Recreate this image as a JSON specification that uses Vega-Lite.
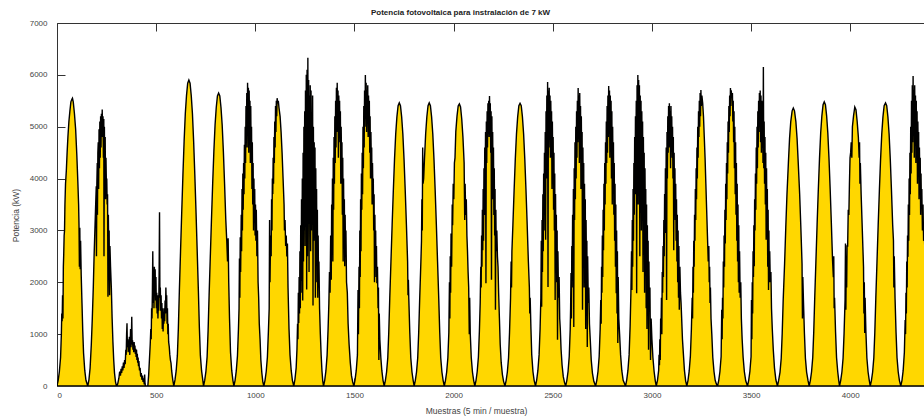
{
"$schema": "https://vega.github.io/schema/vega-lite/v6.json",
"width": 867, "height": 363,
"autosize": {"type": "none"},
"padding": {"left": 57, "top": 23, "right": 0, "bottom": 30},
"background": "white",
"config": {"view": {"stroke": null}, "font": "Liberation Sans"},
"title": {"text": "Potencia fotovoltaica para instralación de 7 kW", "fontSize": 8, "fontWeight": "bold", "font": "Liberation Sans", "color": "#222", "dx": -30, "offset": 2},
"data": {"values": [
{"m":0,"p":0},{"m":6,"p":110},{"m":12,"p":280},{"m":18,"p":550},{"m":22,"p":1000},{"m":24,"p":1400},{"m":26,"p":1250},{"m":28,"p":1750},{"m":30,"p":1300},{"m":32,"p":2300},{"m":34,"p":2550},{"m":36,"p":2900},{"m":38,"p":3000},{"m":40,"p":3500},{"m":43,"p":3900},{"m":47,"p":4150},{"m":51,"p":4500},{"m":55,"p":4800},{"m":60,"p":5100},{"m":65,"p":5300},{"m":70,"p":5480},{"m":75,"p":5530},{"m":78,"p":5550},{"m":82,"p":5480},{"m":88,"p":5250},{"m":94,"p":4950},{"m":100,"p":4450},{"m":105,"p":3950},{"m":109,"p":3500},{"m":111,"p":3100},{"m":113,"p":2300},{"m":115,"p":3050},{"m":117,"p":2250},{"m":119,"p":2800},{"m":122,"p":2150},{"m":126,"p":1600},{"m":130,"p":1050},{"m":134,"p":630},{"m":140,"p":300},{"m":146,"p":110},
{"m":155,"p":0},{"m":161,"p":120},{"m":167,"p":350},{"m":173,"p":800},{"m":178,"p":1300},{"m":183,"p":1900},{"m":187,"p":2500},{"m":191,"p":3000},{"m":195,"p":3500},{"m":198,"p":3850},{"m":199,"p":2500},{"m":201,"p":3900},{"m":203,"p":4300},{"m":204,"p":3300},{"m":206,"p":4500},{"m":208,"p":4700},{"m":210,"p":3800},{"m":212,"p":4950},{"m":214,"p":4200},{"m":216,"p":5100},{"m":218,"p":4400},{"m":220,"p":5200},{"m":222,"p":4600},{"m":224,"p":5250},{"m":226,"p":4800},{"m":228,"p":5330},{"m":230,"p":4900},{"m":232,"p":5200},{"m":234,"p":4400},{"m":236,"p":5150},{"m":237,"p":2500},{"m":239,"p":5000},{"m":241,"p":3800},{"m":243,"p":4800},{"m":245,"p":3600},{"m":247,"p":4400},{"m":249,"p":3900},{"m":251,"p":4000},{"m":253,"p":3500},{"m":255,"p":3700},{"m":257,"p":1720},{"m":259,"p":3300},{"m":261,"p":2600},{"m":263,"p":3000},{"m":265,"p":1750},{"m":267,"p":2700},{"m":270,"p":2300},{"m":274,"p":1900},{"m":278,"p":1300},{"m":282,"p":850},{"m":286,"p":500},{"m":290,"p":250},{"m":295,"p":80},
{"m":300,"p":0},{"m":306,"p":40},{"m":312,"p":150},{"m":316,"p":280},{"m":320,"p":200},{"m":323,"p":330},{"m":326,"p":250},{"m":329,"p":380},{"m":332,"p":300},{"m":335,"p":450},{"m":338,"p":350},{"m":341,"p":500},{"m":344,"p":420},{"m":347,"p":700},{"m":349,"p":600},{"m":351,"p":1000},{"m":353,"p":1210},{"m":355,"p":750},{"m":357,"p":900},{"m":359,"p":650},{"m":361,"p":820},{"m":363,"p":700},{"m":365,"p":950},{"m":367,"p":600},{"m":369,"p":800},{"m":371,"p":1100},{"m":373,"p":750},{"m":375,"p":900},{"m":377,"p":1336},{"m":379,"p":800},{"m":381,"p":880},{"m":383,"p":700},{"m":385,"p":840},{"m":387,"p":650},{"m":389,"p":850},{"m":391,"p":700},{"m":393,"p":780},{"m":395,"p":620},{"m":397,"p":720},{"m":399,"p":560},{"m":401,"p":700},{"m":403,"p":500},{"m":405,"p":620},{"m":407,"p":450},{"m":409,"p":550},{"m":411,"p":380},{"m":413,"p":480},{"m":416,"p":300},{"m":419,"p":350},{"m":422,"p":180},{"m":425,"p":250},{"m":428,"p":120},{"m":431,"p":200},{"m":434,"p":80},{"m":437,"p":150},{"m":440,"p":30},{"m":442,"p":220},{"m":444,"p":50},{"m":446,"p":0},
{"m":458,"p":0},{"m":462,"p":200},{"m":466,"p":500},{"m":470,"p":800},{"m":473,"p":1100},{"m":475,"p":900},{"m":477,"p":1500},{"m":479,"p":1300},{"m":481,"p":1800},{"m":483,"p":2600},{"m":485,"p":1600},{"m":487,"p":2100},{"m":489,"p":1500},{"m":491,"p":2300},{"m":493,"p":1900},{"m":495,"p":2250},{"m":497,"p":1650},{"m":499,"p":2100},{"m":501,"p":1500},{"m":503,"p":1800},{"m":505,"p":1400},{"m":507,"p":1750},{"m":509,"p":1300},{"m":511,"p":1600},{"m":513,"p":1450},{"m":515,"p":2200},{"m":517,"p":3350},{"m":519,"p":1700},{"m":521,"p":1900},{"m":523,"p":1450},{"m":525,"p":1750},{"m":527,"p":1300},{"m":529,"p":1600},{"m":531,"p":1100},{"m":533,"p":1500},{"m":535,"p":1050},{"m":537,"p":1400},{"m":539,"p":1200},{"m":541,"p":1500},{"m":543,"p":1250},{"m":545,"p":1650},{"m":547,"p":1400},{"m":549,"p":1900},{"m":551,"p":1600},{"m":553,"p":1750},{"m":555,"p":1200},{"m":557,"p":1500},{"m":559,"p":1000},{"m":561,"p":1200},{"m":563,"p":850},{"m":566,"p":760},{"m":569,"p":600},{"m":572,"p":500},{"m":575,"p":440},{"m":578,"p":300},{"m":581,"p":200},{"m":584,"p":115},
{"m":589,"p":0},{"m":595,"p":118},{"m":601,"p":295},{"m":607,"p":590},{"m":612,"p":1120},{"m":617,"p":1830},{"m":623,"p":2600},{"m":629,"p":3360},{"m":635,"p":4070},{"m":641,"p":4720},{"m":647,"p":5250},{"m":653,"p":5600},{"m":659,"p":5840},{"m":665,"p":5900},{"m":671,"p":5840},{"m":677,"p":5600},{"m":683,"p":5250},{"m":689,"p":4720},{"m":695,"p":4070},{"m":701,"p":3360},{"m":707,"p":2600},{"m":713,"p":1830},{"m":718,"p":1120},{"m":723,"p":590},{"m":729,"p":295},{"m":735,"p":118},
{"m":739,"p":0},{"m":745,"p":113},{"m":751,"p":283},{"m":757,"p":565},{"m":762,"p":1074},{"m":767,"p":1752},{"m":773,"p":2486},{"m":779,"p":3221},{"m":785,"p":3899},{"m":791,"p":4520},{"m":797,"p":5029},{"m":803,"p":5368},{"m":809,"p":5594},{"m":815,"p":5650},{"m":821,"p":5594},{"m":827,"p":5368},{"m":833,"p":5029},{"m":839,"p":4520},{"m":845,"p":3899},{"m":851,"p":3221},{"m":856,"p":2800},{"m":860,"p":2400},{"m":863,"p":2850},{"m":866,"p":2000},{"m":870,"p":1300},{"m":875,"p":650},{"m":881,"p":300},{"m":887,"p":110},
{"m":892,"p":0},{"m":898,"p":110},{"m":904,"p":290},{"m":910,"p":580},{"m":915,"p":1100},{"m":918,"p":1500},{"m":920,"p":2460},{"m":922,"p":1700},{"m":924,"p":2870},{"m":926,"p":2200},{"m":929,"p":3300},{"m":931,"p":2600},{"m":933,"p":3800},{"m":935,"p":3000},{"m":937,"p":4100},{"m":939,"p":3400},{"m":941,"p":4300},{"m":943,"p":3700},{"m":945,"p":4650},{"m":947,"p":4000},{"m":949,"p":5000},{"m":951,"p":4300},{"m":953,"p":5400},{"m":955,"p":4700},{"m":957,"p":5650},{"m":959,"p":4600},{"m":961,"p":5850},{"m":963,"p":5100},{"m":965,"p":5750},{"m":967,"p":4500},{"m":969,"p":5700},{"m":971,"p":5000},{"m":973,"p":5500},{"m":975,"p":4300},{"m":977,"p":5400},{"m":979,"p":4500},{"m":981,"p":5000},{"m":983,"p":3800},{"m":985,"p":4700},{"m":987,"p":3500},{"m":989,"p":4300},{"m":991,"p":3000},{"m":993,"p":4000},{"m":995,"p":3300},{"m":997,"p":3800},{"m":999,"p":2900},{"m":1001,"p":3500},{"m":1003,"p":2800},{"m":1005,"p":3400},{"m":1008,"p":2500},{"m":1011,"p":3000},{"m":1014,"p":2000},{"m":1017,"p":1700},{"m":1020,"p":1200},{"m":1024,"p":900},{"m":1028,"p":500},{"m":1033,"p":250},{"m":1038,"p":80},
{"m":1043,"p":0},{"m":1049,"p":110},{"m":1055,"p":280},{"m":1061,"p":560},{"m":1066,"p":1050},{"m":1070,"p":1500},{"m":1072,"p":3200},{"m":1074,"p":2000},{"m":1076,"p":2560},{"m":1078,"p":2900},{"m":1080,"p":2500},{"m":1082,"p":3600},{"m":1084,"p":3000},{"m":1086,"p":4000},{"m":1088,"p":3700},{"m":1090,"p":4400},{"m":1092,"p":3900},{"m":1094,"p":4800},{"m":1096,"p":4300},{"m":1098,"p":5100},{"m":1100,"p":4600},{"m":1102,"p":5400},{"m":1104,"p":4900},{"m":1106,"p":5500},{"m":1108,"p":5200},{"m":1110,"p":5550},{"m":1113,"p":5450},{"m":1116,"p":5500},{"m":1120,"p":5350},{"m":1125,"p":5200},{"m":1130,"p":4900},{"m":1135,"p":4500},{"m":1140,"p":4000},{"m":1145,"p":3500},{"m":1147,"p":3000},{"m":1150,"p":3200},{"m":1153,"p":2700},{"m":1156,"p":2900},{"m":1159,"p":2500},{"m":1162,"p":2750},{"m":1165,"p":1900},{"m":1170,"p":1100},{"m":1175,"p":600},{"m":1181,"p":300},{"m":1187,"p":110},
{"m":1194,"p":0},{"m":1200,"p":130},{"m":1206,"p":350},{"m":1210,"p":700},{"m":1213,"p":1200},{"m":1215,"p":900},{"m":1217,"p":1800},{"m":1219,"p":1215},{"m":1221,"p":2100},{"m":1223,"p":1400},{"m":1225,"p":2600},{"m":1227,"p":1500},{"m":1229,"p":3100},{"m":1231,"p":1800},{"m":1233,"p":3600},{"m":1235,"p":2030},{"m":1237,"p":4000},{"m":1239,"p":1650},{"m":1241,"p":4500},{"m":1243,"p":2400},{"m":1245,"p":5000},{"m":1247,"p":3000},{"m":1249,"p":5300},{"m":1251,"p":2700},{"m":1253,"p":5700},{"m":1255,"p":3200},{"m":1257,"p":6000},{"m":1259,"p":1860},{"m":1261,"p":6100},{"m":1263,"p":2500},{"m":1265,"p":6330},{"m":1267,"p":3400},{"m":1269,"p":5900},{"m":1271,"p":2200},{"m":1273,"p":5600},{"m":1275,"p":3900},{"m":1277,"p":5800},{"m":1279,"p":2600},{"m":1281,"p":5700},{"m":1283,"p":3000},{"m":1285,"p":5200},{"m":1287,"p":4400},{"m":1289,"p":5600},{"m":1291,"p":1550},{"m":1293,"p":5000},{"m":1295,"p":2800},{"m":1297,"p":4700},{"m":1299,"p":3300},{"m":1301,"p":4600},{"m":1303,"p":1700},{"m":1305,"p":4200},{"m":1307,"p":2400},{"m":1309,"p":3800},{"m":1311,"p":2000},{"m":1313,"p":3400},{"m":1315,"p":1700},{"m":1317,"p":2900},{"m":1319,"p":1900},{"m":1321,"p":2400},{"m":1324,"p":1500},{"m":1328,"p":1000},{"m":1332,"p":600},{"m":1336,"p":300},{"m":1340,"p":100},
{"m":1344,"p":0},{"m":1350,"p":110},{"m":1356,"p":290},{"m":1362,"p":590},{"m":1367,"p":1100},{"m":1371,"p":1600},{"m":1374,"p":2200},{"m":1377,"p":1800},{"m":1380,"p":2900},{"m":1383,"p":2050},{"m":1385,"p":3500},{"m":1387,"p":2700},{"m":1389,"p":4000},{"m":1391,"p":2400},{"m":1393,"p":4400},{"m":1395,"p":3400},{"m":1397,"p":4800},{"m":1399,"p":3900},{"m":1401,"p":5200},{"m":1403,"p":4300},{"m":1405,"p":5500},{"m":1407,"p":4600},{"m":1409,"p":5750},{"m":1411,"p":4900},{"m":1413,"p":5850},{"m":1415,"p":5000},{"m":1417,"p":5700},{"m":1419,"p":4400},{"m":1421,"p":5600},{"m":1423,"p":5100},{"m":1425,"p":5500},{"m":1427,"p":4700},{"m":1429,"p":5300},{"m":1431,"p":3900},{"m":1433,"p":5000},{"m":1435,"p":4300},{"m":1437,"p":4700},{"m":1439,"p":3300},{"m":1441,"p":4400},{"m":1443,"p":2400},{"m":1445,"p":4000},{"m":1447,"p":3000},{"m":1449,"p":3600},{"m":1451,"p":2310},{"m":1453,"p":3300},{"m":1455,"p":2600},{"m":1457,"p":3000},{"m":1460,"p":2000},{"m":1464,"p":1800},{"m":1468,"p":1200},{"m":1473,"p":800},{"m":1479,"p":450},{"m":1485,"p":200},{"m":1491,"p":80},
{"m":1497,"p":0},{"m":1503,"p":120},{"m":1509,"p":300},{"m":1515,"p":600},{"m":1518,"p":1850},{"m":1520,"p":1000},{"m":1523,"p":2300},{"m":1525,"p":1500},{"m":1527,"p":3000},{"m":1529,"p":2100},{"m":1531,"p":3600},{"m":1533,"p":2600},{"m":1535,"p":4100},{"m":1537,"p":3400},{"m":1539,"p":4500},{"m":1541,"p":3700},{"m":1543,"p":5000},{"m":1545,"p":4200},{"m":1547,"p":5400},{"m":1549,"p":4600},{"m":1551,"p":5700},{"m":1553,"p":5000},{"m":1555,"p":5995},{"m":1557,"p":5200},{"m":1559,"p":5850},{"m":1561,"p":4900},{"m":1563,"p":5700},{"m":1565,"p":5300},{"m":1567,"p":5800},{"m":1569,"p":4800},{"m":1571,"p":5600},{"m":1573,"p":5100},{"m":1575,"p":5500},{"m":1577,"p":4500},{"m":1579,"p":5200},{"m":1581,"p":4000},{"m":1583,"p":4900},{"m":1585,"p":4300},{"m":1587,"p":4600},{"m":1589,"p":3500},{"m":1591,"p":4300},{"m":1593,"p":3700},{"m":1595,"p":4000},{"m":1597,"p":3000},{"m":1599,"p":3700},{"m":1601,"p":2000},{"m":1603,"p":3300},{"m":1605,"p":2500},{"m":1607,"p":3000},{"m":1609,"p":2100},{"m":1611,"p":2700},{"m":1613,"p":1980},{"m":1616,"p":2300},{"m":1619,"p":1500},{"m":1621,"p":1900},{"m":1623,"p":500},{"m":1625,"p":1400},{"m":1628,"p":900},{"m":1633,"p":550},{"m":1638,"p":300},{"m":1644,"p":110},
{"m":1650,"p":0},{"m":1656,"p":110},{"m":1662,"p":270},{"m":1668,"p":545},{"m":1673,"p":1035},{"m":1678,"p":1690},{"m":1684,"p":2400},{"m":1690,"p":3110},{"m":1696,"p":3770},{"m":1702,"p":4370},{"m":1708,"p":4860},{"m":1714,"p":5190},{"m":1720,"p":5405},{"m":1726,"p":5460},{"m":1732,"p":5405},{"m":1738,"p":5190},{"m":1744,"p":4860},{"m":1750,"p":4370},{"m":1756,"p":3770},{"m":1762,"p":3110},{"m":1768,"p":2400},{"m":1770,"p":1750},{"m":1772,"p":2050},{"m":1774,"p":1690},{"m":1779,"p":1035},{"m":1784,"p":545},{"m":1790,"p":270},{"m":1796,"p":110},
{"m":1801,"p":0},{"m":1807,"p":110},{"m":1813,"p":270},{"m":1819,"p":545},{"m":1824,"p":1035},{"m":1829,"p":1690},{"m":1835,"p":2400},{"m":1838,"p":2800},{"m":1840,"p":3600},{"m":1842,"p":3000},{"m":1844,"p":4600},{"m":1846,"p":3900},{"m":1849,"p":4000},{"m":1853,"p":4370},{"m":1859,"p":4860},{"m":1865,"p":5190},{"m":1871,"p":5405},{"m":1877,"p":5460},{"m":1883,"p":5405},{"m":1889,"p":5190},{"m":1895,"p":4860},{"m":1901,"p":4370},{"m":1907,"p":3770},{"m":1913,"p":3110},{"m":1919,"p":2400},{"m":1925,"p":1690},{"m":1930,"p":1035},{"m":1935,"p":545},{"m":1941,"p":270},{"m":1947,"p":110},
{"m":1953,"p":0},{"m":1959,"p":110},{"m":1965,"p":270},{"m":1971,"p":545},{"m":1976,"p":1035},{"m":1979,"p":2000},{"m":1981,"p":1300},{"m":1983,"p":2500},{"m":1985,"p":1800},{"m":1987,"p":2940},{"m":1990,"p":2300},{"m":1993,"p":3500},{"m":1995,"p":3100},{"m":1998,"p":3900},{"m":2001,"p":3600},{"m":2004,"p":4300},{"m":2007,"p":4400},{"m":2011,"p":4900},{"m":2017,"p":5200},{"m":2023,"p":5400},{"m":2029,"p":5440},{"m":2035,"p":5380},{"m":2041,"p":5150},{"m":2047,"p":4800},{"m":2053,"p":4300},{"m":2056,"p":3200},{"m":2058,"p":3900},{"m":2061,"p":3300},{"m":2064,"p":3600},{"m":2067,"p":2900},{"m":2070,"p":2600},{"m":2073,"p":2200},{"m":2076,"p":1900},{"m":2079,"p":1000},{"m":2081,"p":1700},{"m":2084,"p":1000},{"m":2089,"p":550},{"m":2095,"p":270},{"m":2101,"p":110},
{"m":2107,"p":0},{"m":2113,"p":110},{"m":2119,"p":280},{"m":2125,"p":560},{"m":2130,"p":1060},{"m":2134,"p":1600},{"m":2137,"p":2300},{"m":2139,"p":1900},{"m":2141,"p":2900},{"m":2143,"p":2300},{"m":2145,"p":3400},{"m":2147,"p":2620},{"m":2149,"p":3800},{"m":2151,"p":2800},{"m":2153,"p":4200},{"m":2155,"p":3300},{"m":2157,"p":4600},{"m":2159,"p":3800},{"m":2161,"p":4900},{"m":2163,"p":1980},{"m":2165,"p":5100},{"m":2167,"p":4300},{"m":2169,"p":5300},{"m":2171,"p":4600},{"m":2173,"p":5450},{"m":2175,"p":4900},{"m":2177,"p":5500},{"m":2179,"p":4800},{"m":2181,"p":5590},{"m":2183,"p":5100},{"m":2185,"p":5450},{"m":2187,"p":4500},{"m":2189,"p":5300},{"m":2191,"p":2050},{"m":2193,"p":5200},{"m":2195,"p":4100},{"m":2197,"p":4900},{"m":2199,"p":3600},{"m":2201,"p":4600},{"m":2203,"p":3300},{"m":2205,"p":4200},{"m":2207,"p":2900},{"m":2209,"p":3800},{"m":2211,"p":1470},{"m":2213,"p":3400},{"m":2215,"p":2600},{"m":2218,"p":3000},{"m":2221,"p":2500},{"m":2224,"p":2300},{"m":2227,"p":1800},{"m":2231,"p":1300},{"m":2235,"p":800},{"m":2240,"p":450},{"m":2246,"p":220},{"m":2252,"p":90},
{"m":2259,"p":0},{"m":2265,"p":110},{"m":2271,"p":270},{"m":2277,"p":545},{"m":2282,"p":1035},{"m":2287,"p":1690},{"m":2290,"p":2400},{"m":2292,"p":1900},{"m":2294,"p":2600},{"m":2299,"p":3110},{"m":2305,"p":3770},{"m":2311,"p":4370},{"m":2317,"p":4860},{"m":2323,"p":5190},{"m":2329,"p":5405},{"m":2335,"p":5450},{"m":2341,"p":5405},{"m":2347,"p":5190},{"m":2353,"p":4860},{"m":2359,"p":4370},{"m":2365,"p":3770},{"m":2371,"p":3110},{"m":2377,"p":2400},{"m":2382,"p":1900},{"m":2384,"p":1400},{"m":2386,"p":1700},{"m":2390,"p":1100},{"m":2394,"p":600},{"m":2400,"p":280},{"m":2406,"p":110},
{"m":2413,"p":0},{"m":2419,"p":120},{"m":2425,"p":300},{"m":2431,"p":600},{"m":2436,"p":1100},{"m":2440,"p":1700},{"m":2442,"p":2800},{"m":2444,"p":1530},{"m":2446,"p":3200},{"m":2448,"p":2200},{"m":2450,"p":3700},{"m":2452,"p":2600},{"m":2454,"p":4100},{"m":2456,"p":3000},{"m":2458,"p":4500},{"m":2460,"p":3600},{"m":2462,"p":4900},{"m":2464,"p":2820},{"m":2466,"p":5300},{"m":2468,"p":4000},{"m":2470,"p":5600},{"m":2472,"p":4300},{"m":2474,"p":5860},{"m":2476,"p":1910},{"m":2478,"p":5700},{"m":2480,"p":4600},{"m":2482,"p":5750},{"m":2484,"p":5000},{"m":2486,"p":5600},{"m":2488,"p":4400},{"m":2490,"p":5500},{"m":2492,"p":4800},{"m":2494,"p":5300},{"m":2496,"p":3800},{"m":2498,"p":5100},{"m":2500,"p":4200},{"m":2502,"p":4800},{"m":2504,"p":3400},{"m":2506,"p":4500},{"m":2508,"p":3000},{"m":2510,"p":4100},{"m":2512,"p":1660},{"m":2514,"p":3700},{"m":2516,"p":2600},{"m":2518,"p":3300},{"m":2520,"p":2000},{"m":2522,"p":3000},{"m":2524,"p":890},{"m":2526,"p":2600},{"m":2529,"p":1700},{"m":2532,"p":2100},{"m":2535,"p":1300},{"m":2538,"p":1100},{"m":2542,"p":700},{"m":2547,"p":400},{"m":2553,"p":180},{"m":2559,"p":70},
{"m":2565,"p":0},{"m":2571,"p":110},{"m":2577,"p":280},{"m":2583,"p":570},{"m":2588,"p":1100},{"m":2590,"p":1500},{"m":2592,"p":2180},{"m":2594,"p":1300},{"m":2596,"p":2700},{"m":2598,"p":1900},{"m":2600,"p":3300},{"m":2602,"p":2400},{"m":2604,"p":3800},{"m":2606,"p":1140},{"m":2608,"p":4200},{"m":2610,"p":3200},{"m":2612,"p":4700},{"m":2614,"p":3600},{"m":2616,"p":5000},{"m":2618,"p":4000},{"m":2620,"p":5300},{"m":2622,"p":4400},{"m":2624,"p":5500},{"m":2626,"p":4700},{"m":2628,"p":5745},{"m":2630,"p":4900},{"m":2632,"p":5600},{"m":2634,"p":4300},{"m":2636,"p":5650},{"m":2638,"p":4800},{"m":2640,"p":5400},{"m":2642,"p":3800},{"m":2644,"p":5200},{"m":2646,"p":4200},{"m":2648,"p":4900},{"m":2650,"p":1470},{"m":2652,"p":4600},{"m":2654,"p":3500},{"m":2656,"p":4300},{"m":2658,"p":1900},{"m":2660,"p":3900},{"m":2662,"p":2800},{"m":2664,"p":3600},{"m":2666,"p":1100},{"m":2668,"p":3200},{"m":2670,"p":2200},{"m":2672,"p":2800},{"m":2674,"p":750},{"m":2676,"p":2500},{"m":2679,"p":1600},{"m":2682,"p":1900},{"m":2685,"p":1200},{"m":2689,"p":900},{"m":2694,"p":500},{"m":2700,"p":250},{"m":2707,"p":90},
{"m":2716,"p":0},{"m":2722,"p":110},{"m":2728,"p":280},{"m":2734,"p":570},{"m":2739,"p":1100},{"m":2742,"p":1660},{"m":2744,"p":1200},{"m":2746,"p":2300},{"m":2748,"p":1800},{"m":2750,"p":2900},{"m":2752,"p":2100},{"m":2754,"p":3400},{"m":2756,"p":2620},{"m":2758,"p":3900},{"m":2760,"p":3000},{"m":2762,"p":4300},{"m":2764,"p":3500},{"m":2766,"p":4700},{"m":2768,"p":3900},{"m":2770,"p":5100},{"m":2772,"p":4300},{"m":2774,"p":5400},{"m":2776,"p":4500},{"m":2778,"p":5600},{"m":2780,"p":4800},{"m":2782,"p":5785},{"m":2784,"p":5000},{"m":2786,"p":5700},{"m":2788,"p":4400},{"m":2790,"p":5600},{"m":2792,"p":4700},{"m":2794,"p":5500},{"m":2796,"p":4000},{"m":2798,"p":5300},{"m":2800,"p":3500},{"m":2802,"p":5000},{"m":2804,"p":3900},{"m":2806,"p":4700},{"m":2808,"p":3300},{"m":2810,"p":4300},{"m":2812,"p":2800},{"m":2814,"p":3900},{"m":2816,"p":2300},{"m":2818,"p":3500},{"m":2820,"p":1790},{"m":2822,"p":3000},{"m":2824,"p":1400},{"m":2826,"p":2600},{"m":2828,"p":830},{"m":2830,"p":2100},{"m":2833,"p":1300},{"m":2837,"p":1000},{"m":2842,"p":600},{"m":2848,"p":300},{"m":2855,"p":110},
{"m":2867,"p":0},{"m":2873,"p":120},{"m":2879,"p":300},{"m":2885,"p":600},{"m":2890,"p":1150},{"m":2894,"p":1800},{"m":2897,"p":2600},{"m":2899,"p":1850},{"m":2901,"p":3200},{"m":2903,"p":2300},{"m":2905,"p":3800},{"m":2907,"p":2800},{"m":2909,"p":4300},{"m":2911,"p":3300},{"m":2913,"p":4800},{"m":2915,"p":3700},{"m":2917,"p":5200},{"m":2919,"p":4200},{"m":2921,"p":5500},{"m":2923,"p":1790},{"m":2925,"p":5800},{"m":2927,"p":4500},{"m":2929,"p":5995},{"m":2931,"p":3500},{"m":2933,"p":5900},{"m":2935,"p":4600},{"m":2937,"p":5800},{"m":2939,"p":2500},{"m":2941,"p":5600},{"m":2943,"p":4300},{"m":2945,"p":5500},{"m":2947,"p":3000},{"m":2949,"p":5300},{"m":2951,"p":4000},{"m":2953,"p":5100},{"m":2955,"p":2200},{"m":2957,"p":4800},{"m":2959,"p":3500},{"m":2961,"p":4500},{"m":2963,"p":1800},{"m":2965,"p":4200},{"m":2967,"p":3000},{"m":2969,"p":3800},{"m":2971,"p":1500},{"m":2973,"p":3500},{"m":2975,"p":1100},{"m":2977,"p":3100},{"m":2979,"p":2000},{"m":2981,"p":2800},{"m":2983,"p":700},{"m":2985,"p":2400},{"m":2987,"p":1500},{"m":2990,"p":1900},{"m":2993,"p":500},{"m":2996,"p":1300},{"m":3000,"p":900},{"m":3005,"p":550},{"m":3011,"p":280},{"m":3017,"p":100},
{"m":3022,"p":0},{"m":3028,"p":110},{"m":3034,"p":300},{"m":3036,"p":600},{"m":3038,"p":400},{"m":3040,"p":900},{"m":3042,"p":500},{"m":3044,"p":1300},{"m":3046,"p":1140},{"m":3048,"p":1700},{"m":3050,"p":1000},{"m":3052,"p":2200},{"m":3054,"p":1800},{"m":3056,"p":2700},{"m":3058,"p":2100},{"m":3060,"p":3200},{"m":3062,"p":2500},{"m":3064,"p":3700},{"m":3066,"p":2950},{"m":3068,"p":4200},{"m":3070,"p":3300},{"m":3072,"p":4600},{"m":3074,"p":1660},{"m":3076,"p":4900},{"m":3078,"p":4000},{"m":3080,"p":5200},{"m":3082,"p":4500},{"m":3084,"p":5400},{"m":3086,"p":4600},{"m":3088,"p":5450},{"m":3090,"p":4800},{"m":3092,"p":5300},{"m":3094,"p":4200},{"m":3096,"p":5400},{"m":3098,"p":4700},{"m":3100,"p":5200},{"m":3102,"p":4400},{"m":3104,"p":5000},{"m":3106,"p":4000},{"m":3108,"p":4800},{"m":3110,"p":2620},{"m":3112,"p":4500},{"m":3114,"p":3600},{"m":3116,"p":4200},{"m":3118,"p":3200},{"m":3120,"p":3900},{"m":3122,"p":2800},{"m":3124,"p":3600},{"m":3126,"p":2400},{"m":3128,"p":3300},{"m":3130,"p":2000},{"m":3132,"p":3000},{"m":3134,"p":1700},{"m":3136,"p":2700},{"m":3138,"p":1470},{"m":3141,"p":2300},{"m":3144,"p":1800},{"m":3147,"p":1600},{"m":3150,"p":1300},{"m":3154,"p":900},{"m":3159,"p":600},{"m":3164,"p":300},{"m":3170,"p":100},
{"m":3176,"p":0},{"m":3182,"p":110},{"m":3188,"p":290},{"m":3194,"p":580},{"m":3199,"p":1100},{"m":3203,"p":1700},{"m":3205,"p":1300},{"m":3207,"p":2300},{"m":3209,"p":1800},{"m":3211,"p":2800},{"m":3213,"p":2300},{"m":3215,"p":3300},{"m":3217,"p":2800},{"m":3219,"p":3800},{"m":3221,"p":3200},{"m":3223,"p":4200},{"m":3225,"p":3600},{"m":3227,"p":4600},{"m":3229,"p":4000},{"m":3231,"p":5000},{"m":3233,"p":4400},{"m":3235,"p":5300},{"m":3237,"p":4800},{"m":3239,"p":5500},{"m":3241,"p":5000},{"m":3243,"p":5650},{"m":3245,"p":5200},{"m":3247,"p":5710},{"m":3249,"p":5400},{"m":3252,"p":5600},{"m":3256,"p":5450},{"m":3260,"p":5200},{"m":3264,"p":4800},{"m":3268,"p":4400},{"m":3272,"p":3900},{"m":3276,"p":3400},{"m":3280,"p":2900},{"m":3284,"p":2400},{"m":3287,"p":2700},{"m":3289,"p":2000},{"m":3291,"p":2300},{"m":3293,"p":1600},{"m":3295,"p":1900},{"m":3298,"p":1300},{"m":3302,"p":1000},{"m":3307,"p":550},{"m":3313,"p":280},{"m":3319,"p":110},{"m":3325,"p":40},
{"m":3331,"p":0},{"m":3337,"p":110},{"m":3343,"p":280},{"m":3349,"p":570},{"m":3352,"p":1470},{"m":3354,"p":900},{"m":3356,"p":1700},{"m":3358,"p":1300},{"m":3360,"p":2400},{"m":3362,"p":1900},{"m":3364,"p":2900},{"m":3366,"p":2300},{"m":3368,"p":3400},{"m":3370,"p":2750},{"m":3372,"p":3900},{"m":3374,"p":3200},{"m":3376,"p":4300},{"m":3378,"p":3600},{"m":3380,"p":4700},{"m":3382,"p":4100},{"m":3384,"p":5100},{"m":3386,"p":4500},{"m":3388,"p":5400},{"m":3390,"p":4900},{"m":3392,"p":5600},{"m":3394,"p":5200},{"m":3396,"p":5745},{"m":3398,"p":5400},{"m":3400,"p":5700},{"m":3403,"p":5550},{"m":3406,"p":5650},{"m":3408,"p":5100},{"m":3410,"p":5500},{"m":3412,"p":4700},{"m":3414,"p":5300},{"m":3416,"p":4200},{"m":3418,"p":5000},{"m":3420,"p":3700},{"m":3422,"p":4700},{"m":3424,"p":3300},{"m":3426,"p":4300},{"m":3428,"p":2800},{"m":3430,"p":3900},{"m":3432,"p":2400},{"m":3434,"p":3500},{"m":3436,"p":2000},{"m":3438,"p":3100},{"m":3440,"p":1800},{"m":3442,"p":2600},{"m":3445,"p":1700},{"m":3448,"p":2000},{"m":3451,"p":1300},{"m":3455,"p":900},{"m":3460,"p":550},{"m":3466,"p":280},{"m":3473,"p":100},
{"m":3482,"p":0},{"m":3488,"p":110},{"m":3494,"p":280},{"m":3500,"p":570},{"m":3502,"p":1660},{"m":3504,"p":900},{"m":3506,"p":2000},{"m":3508,"p":1400},{"m":3510,"p":2600},{"m":3512,"p":2100},{"m":3514,"p":3100},{"m":3516,"p":2310},{"m":3518,"p":3600},{"m":3520,"p":3000},{"m":3522,"p":4100},{"m":3524,"p":3400},{"m":3526,"p":4600},{"m":3528,"p":3900},{"m":3530,"p":5000},{"m":3532,"p":4200},{"m":3534,"p":5300},{"m":3536,"p":4600},{"m":3538,"p":5500},{"m":3540,"p":4900},{"m":3542,"p":5650},{"m":3544,"p":5000},{"m":3546,"p":5700},{"m":3548,"p":4700},{"m":3550,"p":5600},{"m":3552,"p":4500},{"m":3554,"p":5500},{"m":3556,"p":4600},{"m":3558,"p":5400},{"m":3560,"p":4300},{"m":3562,"p":6150},{"m":3564,"p":4200},{"m":3566,"p":5100},{"m":3568,"p":3900},{"m":3570,"p":4800},{"m":3572,"p":3500},{"m":3574,"p":4500},{"m":3576,"p":2820},{"m":3578,"p":4200},{"m":3580,"p":3000},{"m":3582,"p":3800},{"m":3584,"p":2300},{"m":3586,"p":3400},{"m":3588,"p":1850},{"m":3590,"p":3000},{"m":3592,"p":2000},{"m":3594,"p":2600},{"m":3597,"p":2000},{"m":3600,"p":2200},{"m":3603,"p":1500},{"m":3607,"p":1100},{"m":3612,"p":700},{"m":3618,"p":350},{"m":3625,"p":120},
{"m":3633,"p":0},{"m":3639,"p":107},{"m":3646,"p":268},{"m":3652,"p":536},{"m":3657,"p":1018},{"m":3662,"p":1662},{"m":3669,"p":2358},{"m":3675,"p":3055},{"m":3681,"p":3698},{"m":3688,"p":4288},{"m":3694,"p":4770},{"m":3700,"p":5092},{"m":3707,"p":5306},{"m":3713,"p":5360},{"m":3719,"p":5306},{"m":3726,"p":5092},{"m":3732,"p":4770},{"m":3738,"p":4288},{"m":3745,"p":3698},{"m":3751,"p":3055},{"m":3757,"p":2358},{"m":3759,"p":1300},{"m":3761,"p":2100},{"m":3764,"p":1662},{"m":3769,"p":1018},{"m":3774,"p":536},{"m":3780,"p":268},{"m":3787,"p":107},
{"m":3793,"p":0},{"m":3799,"p":110},{"m":3805,"p":275},{"m":3811,"p":550},{"m":3816,"p":1040},{"m":3821,"p":1700},{"m":3827,"p":2410},{"m":3833,"p":3120},{"m":3839,"p":3780},{"m":3845,"p":4380},{"m":3851,"p":4880},{"m":3857,"p":5210},{"m":3863,"p":5425},{"m":3869,"p":5480},{"m":3875,"p":5425},{"m":3881,"p":5210},{"m":3887,"p":4880},{"m":3893,"p":4380},{"m":3899,"p":3780},{"m":3905,"p":3120},{"m":3911,"p":2410},{"m":3915,"p":2100},{"m":3917,"p":2500},{"m":3919,"p":1500},{"m":3921,"p":1700},{"m":3926,"p":1040},{"m":3931,"p":550},{"m":3937,"p":275},{"m":3942,"p":110},
{"m":3946,"p":0},{"m":3952,"p":110},{"m":3958,"p":270},{"m":3964,"p":540},{"m":3969,"p":1020},{"m":3974,"p":1670},{"m":3976,"p":2750},{"m":3978,"p":1470},{"m":3980,"p":2400},{"m":3982,"p":1900},{"m":3984,"p":2700},{"m":3987,"p":2700},{"m":3990,"p":3400},{"m":3993,"p":3300},{"m":3996,"p":3900},{"m":3999,"p":4400},{"m":4002,"p":4500},{"m":4005,"p":4700},{"m":4008,"p":4400},{"m":4011,"p":5000},{"m":4017,"p":5220},{"m":4023,"p":5380},{"m":4029,"p":5330},{"m":4035,"p":5100},{"m":4041,"p":4800},{"m":4045,"p":4400},{"m":4047,"p":4700},{"m":4049,"p":3900},{"m":4051,"p":4300},{"m":4055,"p":3700},{"m":4061,"p":3000},{"m":4067,"p":2300},{"m":4069,"p":1400},{"m":4071,"p":2000},{"m":4073,"p":1020},{"m":4075,"p":1700},{"m":4079,"p":1050},{"m":4084,"p":540},{"m":4090,"p":270},{"m":4096,"p":110},
{"m":4101,"p":0},{"m":4107,"p":110},{"m":4113,"p":270},{"m":4119,"p":545},{"m":4124,"p":1035},{"m":4129,"p":1690},{"m":4135,"p":2400},{"m":4141,"p":3110},{"m":4147,"p":3770},{"m":4153,"p":4370},{"m":4159,"p":4860},{"m":4165,"p":5190},{"m":4171,"p":5405},{"m":4178,"p":5460},{"m":4184,"p":5405},{"m":4190,"p":5190},{"m":4196,"p":4860},{"m":4202,"p":4370},{"m":4208,"p":3770},{"m":4214,"p":3110},{"m":4218,"p":2800},{"m":4220,"p":1900},{"m":4222,"p":2500},{"m":4226,"p":1690},{"m":4231,"p":1035},{"m":4236,"p":545},{"m":4242,"p":270},{"m":4248,"p":110},
{"m":4255,"p":0},{"m":4261,"p":110},{"m":4267,"p":300},{"m":4273,"p":650},{"m":4277,"p":1270},{"m":4279,"p":1000},{"m":4281,"p":1800},{"m":4283,"p":1400},{"m":4285,"p":2400},{"m":4287,"p":1900},{"m":4289,"p":2900},{"m":4291,"p":2490},{"m":4293,"p":3500},{"m":4295,"p":2800},{"m":4297,"p":4000},{"m":4299,"p":3300},{"m":4301,"p":4500},{"m":4303,"p":3700},{"m":4305,"p":5000},{"m":4307,"p":4100},{"m":4309,"p":5500},{"m":4311,"p":4500},{"m":4313,"p":5800},{"m":4315,"p":4700},{"m":4317,"p":5980},{"m":4319,"p":4900},{"m":4321,"p":5700},{"m":4323,"p":4400},{"m":4325,"p":5800},{"m":4327,"p":5000},{"m":4329,"p":5600},{"m":4331,"p":4300},{"m":4333,"p":5500},{"m":4335,"p":4600},{"m":4337,"p":5300},{"m":4339,"p":3900},{"m":4341,"p":5100},{"m":4343,"p":4400},{"m":4345,"p":4900},{"m":4347,"p":3600},{"m":4349,"p":4600},{"m":4351,"p":3900},{"m":4353,"p":4400},{"m":4355,"p":3300},{"m":4357,"p":4100},{"m":4359,"p":3500},{"m":4361,"p":3800},{"m":4364,"p":3000},{"m":4367,"p":3500},{"m":4370,"p":2800},{"m":4374,"p":2900},{"m":4380,"p":2200},{"m":4386,"p":1500},{"m":4392,"p":900},{"m":4398,"p":400},{"m":4403,"p":150},{"m":4408,"p":0}
]},
"layer": [
{
"mark": {"type": "area", "color": "#FFD700", "fillOpacity": 1, "stroke": "#000000", "strokeWidth": 1.4, "clip": true, "interpolate": "linear"},
"encoding": {
"x": {"field": "m", "type": "quantitative", "scale": {"domain": [0, 4372], "nice": false, "zero": false},
"axis": {"orient": "bottom", "values": [0,500,1000,1500,2000,2500,3000,3500,4000], "format": "d", "grid": false, "tickSize": -8, "tickColor": "#333", "domainColor": "#333", "labelFontSize": 8, "labelColor": "#444", "labelPadding": 13, "labelFont": "Liberation Sans", "title": "Muestras (5 min / muestra)", "titleFontSize": 8.5, "titleFontWeight": "normal", "titleColor": "#444", "titleFont": "Liberation Sans", "titlePadding": 7, "titleX": 419}},
"y": {"field": "p", "type": "quantitative", "scale": {"domain": [0, 7000], "nice": false},
"axis": {"orient": "left", "values": [0,1000,2000,3000,4000,5000,6000,7000], "format": "d", "grid": false, "tickSize": -8, "tickColor": "#333", "domainColor": "#333", "labelFontSize": 8, "labelColor": "#444", "labelPadding": 18, "labelFont": "Liberation Sans", "title": "Potencia (kW)", "titleFontSize": 8.5, "titleFontWeight": "normal", "titleColor": "#444", "titleFont": "Liberation Sans", "titlePadding": 9, "titleY": 192}}
}
},
{
"mark": {"type": "point", "opacity": 0},
"encoding": {
"x": {"field": "m", "type": "quantitative", "axis": {"orient": "top", "values": [0,500,1000,1500,2000,2500,3000,3500,4000], "grid": false, "labels": false, "title": null, "tickSize": -8, "tickColor": "#333", "domainColor": "#333"}}
}
}
],
"resolve": {"axis": {"x": "independent"}}
}
